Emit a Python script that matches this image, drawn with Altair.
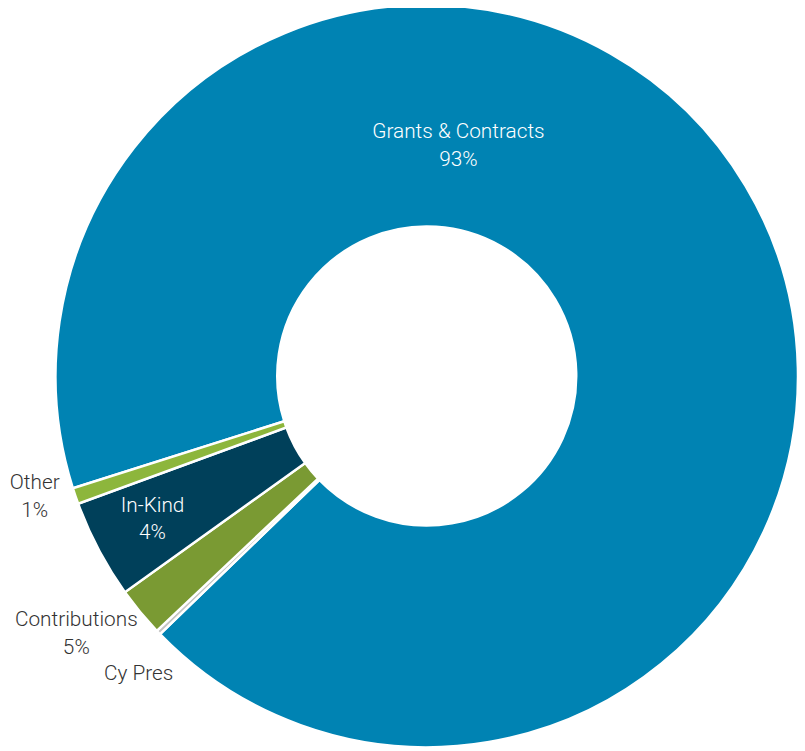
import math
import altair as alt
import pandas as pd

categories = ["Grants & Contracts", "Cy Pres", "Contributions", "In-Kind", "Other"]
values = [92.65, 0.2, 2.15, 4.3, 0.7]
pct_labels = ["93%", "", "5%", "4%", "1%"]
colors = ["#0083B3", "#C4C4C4", "#7A9A33", "#00405A", "#8DB63C"]

df = pd.DataFrame({
    "category": categories,
    "value": values,
    "order": list(range(len(categories))),
})

start = math.radians(252.4)
CX, CY = 423, 368

arcs = alt.Chart(df).mark_arc(
    innerRadius=151, outerRadius=375, stroke="white", strokeWidth=2.5
).encode(
    x=alt.value(CX),
    y=alt.value(CY),
    theta=alt.Theta("value:Q", stack=True,
                    scale=alt.Scale(range=[start, start + 2 * math.pi])),
    order=alt.Order("order:Q"),
    color=alt.Color("category:N", sort=categories,
                    scale=alt.Scale(domain=categories, range=colors),
                    legend=None),
)

FONT = "Roboto"

def label(text, px, py, color):
    return alt.Chart(pd.DataFrame({"t": [text]})).mark_text(
        font=FONT, fontSize=21, fontWeight=300, color=color,
        align="center", baseline="middle", lineBreak="\n", lineHeight=28,
    ).encode(text="t:N", x=alt.value(px - 8), y=alt.value(py - 8))

layers = [
    arcs,
    label(categories[0] + "\n" + pct_labels[0], 463, 130, "white"),
    label(categories[3] + "\n" + pct_labels[3], 154, 507, "white"),
    label(categories[4] + "\n" + pct_labels[4], 35, 484, "#333333"),
    label(categories[2] + "\n" + pct_labels[2], 77, 623, "#333333"),
    label(categories[1], 140, 677, "#333333"),
]

chart = alt.layer(*layers).properties(
    width=797, height=743, padding=0, autosize=alt.AutoSizeParams(type="none")
).configure_view(stroke=None)

chart.save("out.html", embed_options={"renderer": "svg", "actions": False})
